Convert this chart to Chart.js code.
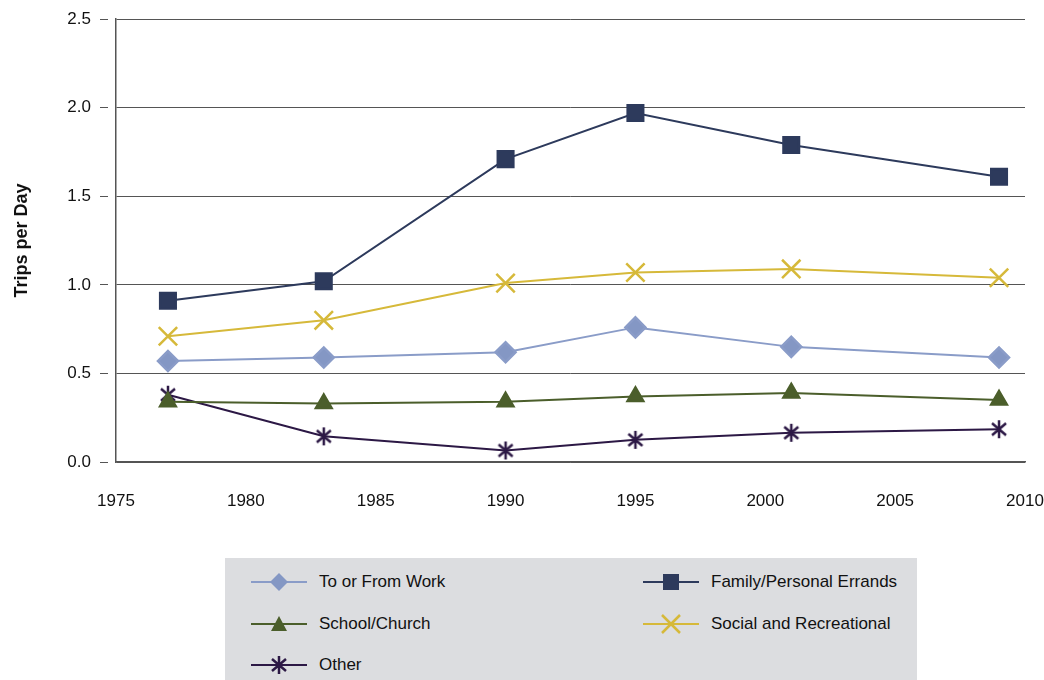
<!DOCTYPE html>
<html>
<head>
<meta charset="utf-8">
<script src="https://cdn.jsdelivr.net/npm/chart.js@4/dist/chart.umd.min.js"></script>
<style>
  body { margin: 0; background: #fff; }
  #wrap { position: relative; width: 1044px; height: 680px; }
  #legend { position: absolute; left: 225px; top: 558px; width: 692px; height: 122px; background: #dcdde0; }
  .item { position: absolute; height: 24px; display: flex; align-items: center; font: 17px "Liberation Sans", Arial, sans-serif; color: #111; }
  .item svg { margin-right: 8px; }
</style>
</head>
<body>
<div id="wrap">
  <canvas id="chart" width="1044" height="680"></canvas>
  <div id="legend"></div>
</div>
<script>
const years = [1977, 1983, 1990, 1995, 2001, 2009];
const work = [0.57, 0.59, 0.62, 0.76, 0.65, 0.59];
const family = [0.91, 1.02, 1.71, 1.97, 1.79, 1.61];
const school = [0.34, 0.33, 0.34, 0.37, 0.39, 0.35];
const social = [0.71, 0.80, 1.01, 1.07, 1.09, 1.04];
const other = [0.38, 0.145, 0.065, 0.125, 0.165, 0.185];
const seriesNames = ['To or From Work', 'Family/Personal Errands', 'School/Church', 'Social and Recreational', 'Other'];

const FONT = '"Liberation Sans", Arial, sans-serif';

// asterisk marker (vertical bar + X)
function asterisk(color) {
  const c = document.createElement('canvas');
  c.width = 22; c.height = 22;
  const g = c.getContext('2d');
  g.strokeStyle = color; g.lineWidth = 2.5;
  g.beginPath();
  g.moveTo(11, 2); g.lineTo(11, 20);
  g.moveTo(4, 5); g.lineTo(18, 17);
  g.moveTo(18, 5); g.lineTo(4, 17);
  g.stroke();
  return c;
}

const pts = vals => vals.map((v, i) => ({ x: years[i], y: v }));

const ds = [
  { label: seriesNames[0], data: pts(work), borderColor: '#8a9cc8', backgroundColor: '#8497c4', pointStyle: 'rectRot', pointRadius: 10, borderWidth: 2 },
  { label: seriesNames[1], data: pts(family), borderColor: '#2d3a5c', backgroundColor: '#2d3a5c', pointStyle: 'rect', pointRadius: 11, borderWidth: 2 },
  { label: seriesNames[2], data: pts(school), borderColor: '#4b5e2b', backgroundColor: '#4b5e2b', pointStyle: 'triangle', pointRadius: 9, borderWidth: 2 },
  { label: seriesNames[3], data: pts(social), borderColor: '#d6b93a', backgroundColor: '#d6b93a', pointStyle: 'crossRot', pointRadius: 13, borderWidth: 2 },
  { label: seriesNames[4], data: pts(other), borderColor: '#2c1845', backgroundColor: '#2c1845', pointStyle: asterisk('#2c1845'), pointRadius: 11, borderWidth: 2 }
];
ds.forEach(d => { d.pointBorderWidth = 2.5; d.pointHoverRadius = d.pointRadius; d.tension = 0; });

new Chart(document.getElementById('chart').getContext('2d'), {
  type: 'line',
  data: { datasets: ds },
  options: {
    responsive: false,
    animation: false,
    layout: { padding: { top: 17, right: 19, bottom: 168, left: 0 } },
    plugins: { legend: { display: false }, tooltip: { enabled: false } },
    scales: {
      x: {
        type: 'linear', min: 1975, max: 2010,
        afterFit: s => { s.height = 50; s.paddingRight = 0; s.paddingLeft = 0; },
        grid: { display: false, drawTicks: false },
        border: { display: true, color: '#555', width: 1.5 },
        ticks: { stepSize: 5, padding: 29, color: '#111', font: { family: FONT, size: 17 }, callback: v => String(v) }
      },
      y: {
        min: 0, max: 2.5,
        afterFit: s => { s.width = 116; },
        grid: { color: '#555', lineWidth: 1, drawTicks: true, tickLength: 16, tickBorderDash: [8, 9], tickColor: '#555' },
        border: { display: true, color: '#555', width: 1.5 },
        ticks: { stepSize: 0.5, padding: 9, color: '#111', font: { family: FONT, size: 17 }, callback: v => v.toFixed(1) },
        title: { display: true, text: 'Trips per Day', color: '#111', padding: { top: 11, bottom: 0 }, font: { family: FONT, size: 18, weight: 'bold' } }
      }
    }
  }
});

// HTML legend, two columns
const markers = [
  c => `<polygon points="28,2 37,11 28,20 19,11" fill="${c}"/>`,
  c => `<rect x="20" y="3" width="16" height="16" fill="${c}"/>`,
  c => `<polygon points="28,3 36,18 20,18" fill="${c}"/>`,
  c => `<path d="M19,2 L37,20 M37,2 L19,20" stroke="${c}" stroke-width="2.5"/>`,
  c => `<path d="M28,2 L28,20 M21,5 L35,17 M35,5 L21,17" stroke="${c}" stroke-width="2.5"/>`
];
const spots = [[22, 12], [414, 12], [22, 54], [414, 54], [22, 95]];
const legend = document.getElementById('legend');
ds.forEach((d, i) => {
  const el = document.createElement('div');
  el.className = 'item';
  el.style.left = spots[i][0] + 'px';
  el.style.top = spots[i][1] + 'px';
  el.innerHTML = `<svg width="64" height="22" viewBox="0 0 56 22"><line x1="0" y1="11" x2="56" y2="11" stroke="${d.borderColor}" stroke-width="2"/>${markers[i](d.backgroundColor)}</svg><span>${d.label}</span>`;
  legend.appendChild(el);
});
</script>
</body>
</html>
